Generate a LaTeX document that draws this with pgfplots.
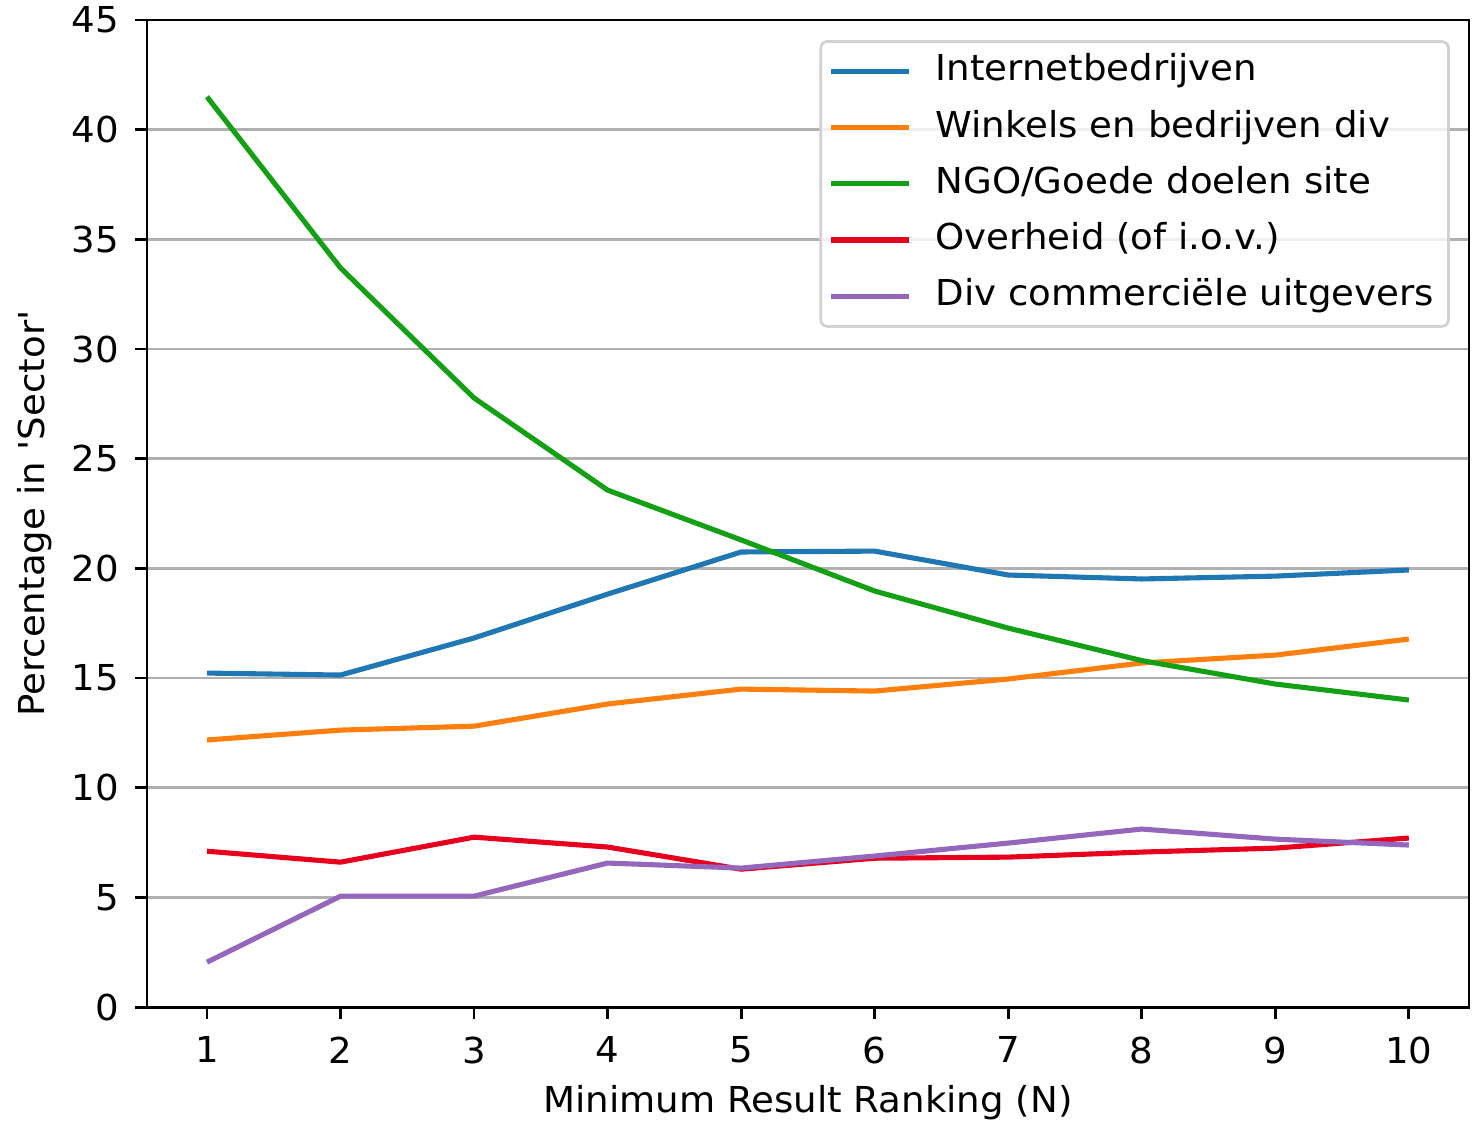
\documentclass[border=0pt]{standalone}
\usepackage{fontspec}
\setmainfont{DejaVu Sans}[FakeStretch=1.04]
\newfontfamily\plainfont{DejaVu Sans}[FakeStretch=1.04]
\usepackage{pgfplots}
\pgfplotsset{compat=1.18}

\definecolor{cblue}{RGB}{31,119,180}
\definecolor{corange}{RGB}{255,127,14}
\definecolor{cgreen}{RGB}{20,160,20}
\definecolor{cred}{RGB}{230,0,30}
\definecolor{cpurple}{RGB}{148,103,189}
\definecolor{cgrid}{RGB}{176,176,176}

\begin{document}
\fontsize{10.5}{12.5}\selectfont
\begin{tikzpicture}
\begin{axis}[
    name=ax,
    scale only axis,
    width=388.8pt, height=290.3pt,
    xmin=0.55, xmax=10.45,
    ymin=0, ymax=45,
    xtick={1,...,10},
    ytick={0,5,...,45},
    xtick pos=bottom, ytick pos=left,
    tick align=outside,
    major tick length=3.5pt,
    tick style={black, line width=0.8pt},
    axis line style={line width=0.8pt},
    ymajorgrids,
    grid style={cgrid, line width=0.8pt},
    /pgf/number format/assume math mode=true,
    ticklabel style={font=\fontsize{10.5}{12.5}\selectfont},
    xticklabel style={yshift=-1.5pt},
    yticklabel style={xshift=-1pt},
    xlabel={Minimum Result Ranking (N)},
    ylabel={\plainfont Percentage in 'Sector'},
    xlabel style={at={(axis description cs:0.5,0)}, anchor=center, yshift=-28.2pt},
    ylabel style={at={(axis description cs:-0.0849,0.5)}, anchor=center},
    legend cell align=left,
    legend style={at={(rel axis cs:1,1)}, anchor=north east,
        xshift=-5.6pt, yshift=-5.9pt,
        draw=black!18, fill=white, fill opacity=0.8, text opacity=1,
        rounded corners=2pt, line width=0.8pt,
        inner xsep=2.3pt, inner ysep=2pt,
        row sep=2.7pt,
        font=\fontsize{10.5}{12.5}\selectfont,
        nodes={text height=7.6pt, text depth=2.2pt}},
    legend image code/.code={\draw[#1, line width=1.5pt] (0pt,0pt) -- (23pt,0pt); \path (28pt,0pt);},
    every axis plot/.append style={line width=1.5pt},
]
\addplot[cblue] coordinates {(1,15.23) (2,15.14) (3,16.83) (4,18.83) (5,20.75) (6,20.79) (7,19.70) (8,19.52) (9,19.65) (10,19.93)};
\addlegendentry{Internetbedrijven}
\addplot[corange] coordinates {(1,12.18) (2,12.63) (3,12.81) (4,13.82) (5,14.50) (6,14.41) (7,14.96) (8,15.69) (9,16.05) (10,16.78)};
\addlegendentry{Winkels en bedrijven div}
\addplot[cgreen] coordinates {(1,41.5) (2,33.7) (3,27.77) (4,23.57) (5,21.3) (6,18.97) (7,17.28) (8,15.8) (9,14.73) (10,14.0)};
\addlegendentry{NGO/Goede doelen site}
\addplot[cred] coordinates {(1,7.11) (2,6.61) (3,7.75) (4,7.30) (5,6.29) (6,6.79) (7,6.84) (8,7.07) (9,7.25) (10,7.71)};
\addlegendentry{Overheid (of i.o.v.)}
\addplot[cpurple] coordinates {(1,2.05) (2,5.06) (3,5.06) (4,6.57) (5,6.34) (6,6.89) (7,7.48) (8,8.12) (9,7.66) (10,7.39)};
\addlegendentry{Div commerciële uitgevers}
\end{axis}
\pgfresetboundingbox
\path[use as bounding box] ([xshift=-43.2pt, yshift=-34.4pt]ax.south west) rectangle ([xshift=1.2pt, yshift=5.9pt]ax.north east);
\end{tikzpicture}
\end{document}
